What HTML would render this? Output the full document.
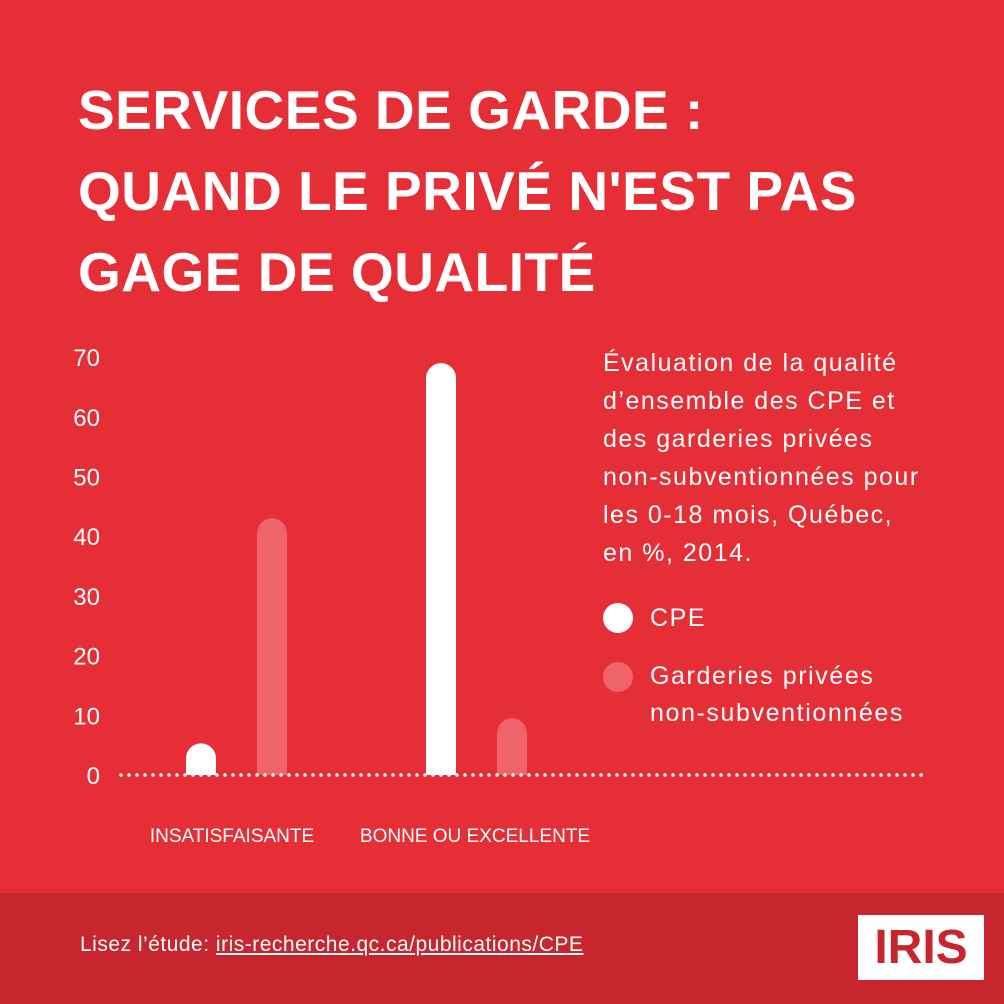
<!DOCTYPE html>
<html><head><meta charset="utf-8"><style>
body{margin:0;width:1004px;height:1004px;background:#e62e37;font-family:"Liberation Sans","DejaVu Sans",sans-serif;color:#fff;position:relative;overflow:hidden}
.t{position:absolute;left:78px;top:70px;font-size:55px;font-weight:bold;line-height:81px;letter-spacing:0.5px}
.desc{position:absolute;left:603px;top:344px;font-size:25px;line-height:38px;letter-spacing:1.5px}
.leg{position:absolute;left:603px;font-size:25px;line-height:37px;letter-spacing:1.6px}
.dot{position:absolute;width:30px;height:30px;border-radius:50%}
.foot{position:absolute;left:0;top:893px;width:1004px;height:111px;background:#c8262e}
</style></head><body>
<div class="t">SERVICES DE GARDE :<br>QUAND LE PRIVÉ N'EST PAS<br>GAGE DE QUALITÉ</div>
<div class="desc">Évaluation de la qualité<br>d’ensemble des CPE et<br>des garderies privées<br>non-subventionnées pour<br>les 0-18 mois, Québec,<br>en %, 2014.</div>
<div class="dot" style="left:603px;top:603px;background:#fff"></div>
<div class="leg" style="left:650px;top:600px">CPE</div>
<div class="dot" style="left:603px;top:662px;background:#ee646a"></div>
<div class="leg" style="left:650px;top:658px">Garderies privées<br>non-subventionnées</div>
<svg id="chart" width="1004" height="893" style="position:absolute;left:0;top:0"></svg>
<div class="foot">
<div style="position:absolute;left:80px;top:40px;font-size:21px;letter-spacing:0.5px">Lisez l’étude: <span style="text-decoration:underline">iris-recherche.qc.ca/publications/CPE</span></div>
<div style="position:absolute;left:858px;top:22px;width:126px;height:65px;background:#fff;color:#c8262e;font-weight:bold;font-size:48px;line-height:65px;text-align:center">IRIS</div>
</div>
<script>
const categories=["INSATISFAISANTE","BONNE OU EXCELLENTE"];
const cpeValues=[5.3,69];
const privateValues=[43,9.5];
const ticks=[0,10,20,30,40,50,60,70];
const svg=document.getElementById('chart');
const NS="http://www.w3.org/2000/svg";
const y0=775,pxPer=5.97;
function y(v){return y0-v*pxPer;}
function mk(t,a){const e=document.createElementNS(NS,t);for(const k in a)e.setAttribute(k,a[k]);svg.appendChild(e);return e;}
ticks.forEach(v=>{const e=mk('text',{x:100,y:y(v)+9,'text-anchor':'end','font-size':24,fill:'#fff','font-family':'Liberation Sans, sans-serif'});e.textContent=v;

});
const catX=[232,472];
function bar(cx,v,col,name){const top=y(v),w=30,r=15,x=cx-w/2;
const d=`M${x},${y0}V${top+r}A${r},${r} 0 0 1 ${x+w},${top+r}V${y0}Z`;
const p=mk('path',{d:d,fill:col});

}
categories.forEach((c,i)=>{
bar(catX[i]-31,cpeValues[i],'#fff','bar-cpe-'+i);
bar(catX[i]+40,privateValues[i],'#ee646a','bar-private-'+i);
const t=mk('text',{x:[232,475][i],y:842,'text-anchor':'middle','font-size':19,fill:'#fff','font-family':'Liberation Sans, sans-serif'});t.textContent=c;


});
const l=mk('line',{x1:121,x2:925,y1:y0,y2:y0,stroke:'#fff','stroke-width':3.5,'stroke-linecap':'round','stroke-dasharray':'0 8'});


</script>
</body></html>
